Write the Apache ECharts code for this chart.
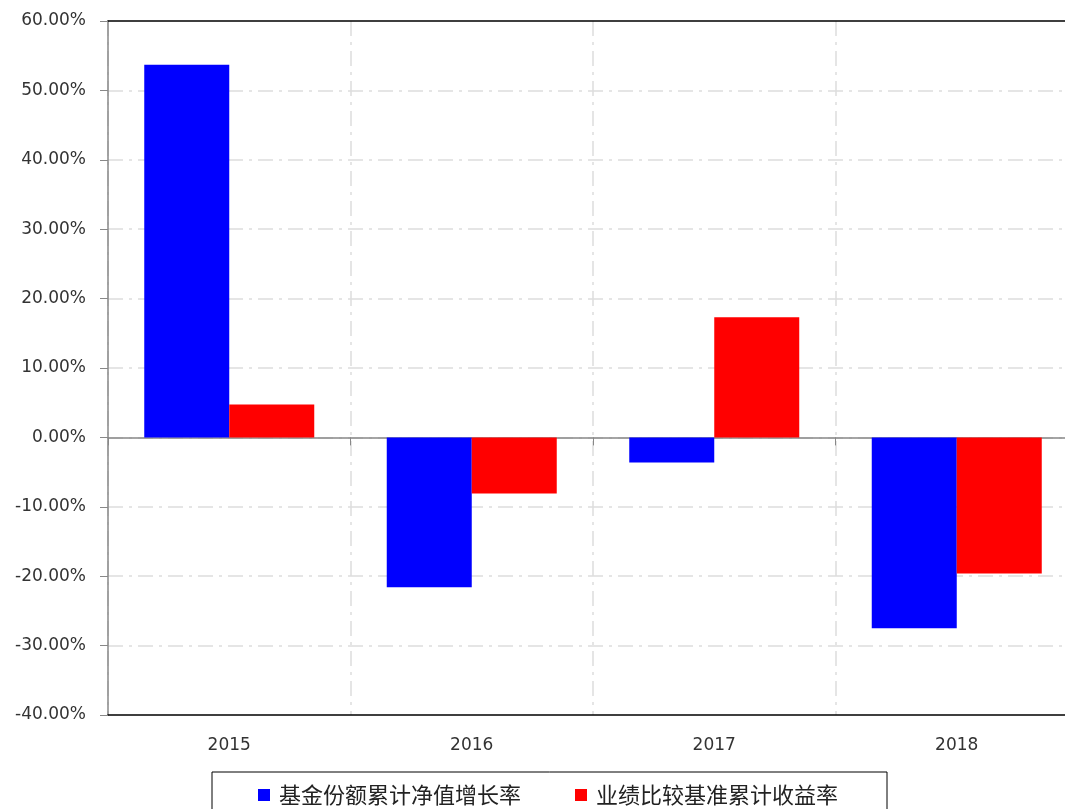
<!DOCTYPE html>
<html>
<head>
<meta charset="utf-8">
<script src="https://cdn.jsdelivr.net/npm/echarts@6/dist/echarts.min.js"></script>
<style>html,body{margin:0;padding:0;background:#fff;}#c{width:1065px;height:809px;}</style>
</head>
<body>
<div id="c"></div>
<script>
const categories = ['2015', '2016', '2017', '2018'];
const fundGrowth = [53.7, -21.6, -3.6, -27.5];
const benchmarkReturn = [4.75, -8.1, 17.3, -19.6];
const seriesNames = ['基金份额累计净值增长率', '业绩比较基准累计收益率'];

const chart = echarts.init(document.getElementById('c'));
const gridDash = [15, 6, 3, 6];
chart.setOption({
  animation: false,
  backgroundColor: '#fff',
  textStyle: { fontFamily: 'DejaVu Sans' },
  grid: { left: 108, top: 21, width: 970, height: 694, outerBoundsMode: 'none', containLabel: false },
  legend: {
    left: 212, top: 772,
    padding: [12, 49, 12, 46],
    itemWidth: 12, itemHeight: 12, itemGap: 54,
    icon: 'rect',
    borderColor: '#000', borderWidth: 1,
    textStyle: { fontSize: 22, color: '#222', fontFamily: 'Noto Sans CJK SC', padding: [0, 0, 0, 4] },
    data: seriesNames
  },
  xAxis: [
    {
      type: 'category', data: categories, position: 'bottom',
      axisLine: { show: true, onZero: false, lineStyle: { color: '#000', width: 1.5 } },
      axisTick: { show: false },
      axisLabel: { color: '#333', fontSize: 17, margin: 22 },
      splitLine: { show: true, lineStyle: { color: '#ddd', type: gridDash, width: 1.5 } }
    },
    {
      type: 'category', data: categories, position: 'bottom',
      axisLine: { show: true, onZero: true, lineStyle: { color: '#888', width: 1.5 } },
      axisTick: { show: true, length: 8, lineStyle: { color: '#888' } },
      axisLabel: { show: false },
      splitLine: { show: false }
    },
    {
      type: 'category', data: categories, position: 'top',
      axisLine: { show: true, onZero: false, lineStyle: { color: '#000', width: 1.5 } },
      axisTick: { show: false },
      axisLabel: { show: false },
      splitLine: { show: false }
    }
  ],
  yAxis: {
    type: 'value', min: -40, max: 60, interval: 10,
    axisLine: { show: true, lineStyle: { color: '#888', width: 1.5 } },
    axisTick: { show: true, length: 8, lineStyle: { color: '#888' } },
    axisLabel: { color: '#333', fontSize: 17, margin: 22, formatter: v => v.toFixed(2) + '%' },
    splitLine: { show: true, showMinLine: false, showMaxLine: false, lineStyle: { color: '#ddd', type: gridDash, width: 1.5 } }
  },
  series: [
    { name: seriesNames[0], type: 'bar', xAxisIndex: 0, data: fundGrowth, barWidth: 85, barGap: '0%', itemStyle: { color: '#0000ff' } },
    { name: seriesNames[1], type: 'bar', xAxisIndex: 0, data: benchmarkReturn, barWidth: 85, barGap: '0%', itemStyle: { color: '#ff0000' } }
  ]
});
</script>
</body>
</html>
